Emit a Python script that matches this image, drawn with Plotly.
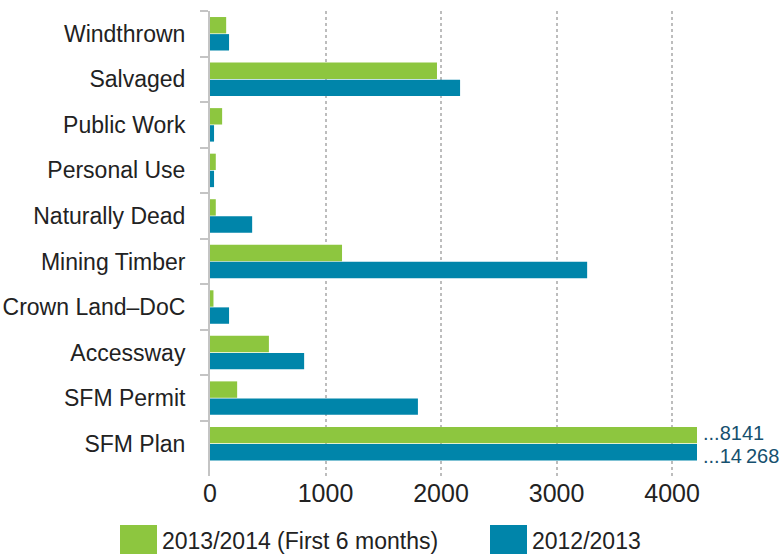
import plotly.graph_objects as go

categories = ["Windthrown", "Salvaged", "Public Work", "Personal Use", "Naturally Dead",
              "Mining Timber", "Crown Land–DoC", "Accessway", "SFM Permit", "SFM Plan"]
s2013_14 = [140, 1965, 105, 50, 50, 1143, 30, 510, 235, 8141]
s2012_13 = [165, 2165, 35, 35, 365, 3265, 165, 815, 1800, 14268]
series_names = ["2013/2014 (First 6 months)", "2012/2013"]
x_ticks = [0, 1000, 2000, 3000, 4000]

GREEN = "#8dc63f"
BLUE = "#0085aa"
FONT = "Liberation Sans"

fig = go.Figure()
fig.add_trace(go.Bar(y=categories, x=s2013_14, orientation="h", name=series_names[0],
                     marker=dict(color=GREEN, line=dict(width=0))))
fig.add_trace(go.Bar(y=categories, x=s2012_13, orientation="h", name=series_names[1],
                     marker=dict(color=BLUE, line=dict(width=0))))

# labels for truncated bars
fig.add_annotation(x=1, xref="paper", y=categories[-1], yref="y", yshift=11,
                   text="..." + f"{s2013_14[-1]}", showarrow=False, xanchor="left", xshift=4,
                   font=dict(family=FONT, size=20, color="#16506e"))
fig.add_annotation(x=1, xref="paper", y=categories[-1], yref="y", yshift=-12,
                   text="..." + f"{s2012_13[-1]:,}".replace(",", "\u2009"), showarrow=False,
                   xanchor="left", xshift=4,
                   font=dict(family=FONT, size=20, color="#16506e"))

# custom legend with large swatches
legend_items = [(series_names[0], GREEN, 120), (series_names[1], BLUE, 490)]
for name, col, px in legend_items:
    fig.add_shape(type="rect", xref="paper", yref="paper",
                  x0=(px - 210) / 487, x1=(px + 37 - 210) / 487,
                  y0=(554 - 78 - 560) / 465, y1=(554 - 78 - 525) / 465,
                  fillcolor=col, line=dict(width=0), layer="above")
    fig.add_annotation(x=(px + 40 - 210) / 487, xref="paper", y=(554 - 78 - 541) / 465, yref="paper",
                       text=name, showarrow=False, xanchor="left", yanchor="middle",
                       font=dict(family=FONT, size=23, color="#222"))

fig.update_layout(
    width=782, height=554,
    margin=dict(l=210, r=85, t=11, b=78),
    paper_bgcolor="white", plot_bgcolor="white",
    barmode="group", bargap=0.25, bargroupgap=0.04,
    showlegend=False,
    font=dict(family=FONT, size=23, color="#222"),
    xaxis=dict(range=[0, 4216], tickvals=x_ticks, ticktext=[str(v) for v in x_ticks],
               showgrid=True, gridcolor="#bdbdbd", gridwidth=2, griddash="dot",
               zeroline=False, showline=False, ticks="", automargin=False,
               tickfont=dict(family=FONT, size=25, color="#222")),
    yaxis=dict(categoryorder="array", categoryarray=categories, range=[9.71, -0.5],
               showline=True, linecolor="#c4c4c4", linewidth=2, automargin=False,
               ticks="outside", tickson="boundaries", ticklen=8, tickwidth=2, tickcolor="#c4c4c4",
               ticklabelstandoff=18, showgrid=False,
               tickfont=dict(family=FONT, size=23, color="#222")),
)

fig.write_html("out.html")
